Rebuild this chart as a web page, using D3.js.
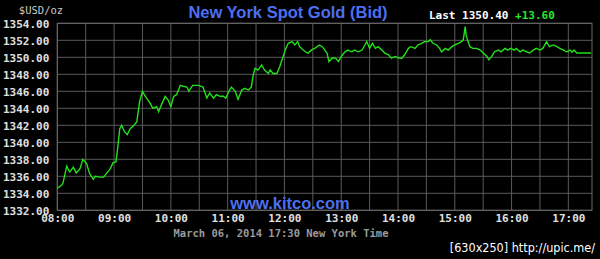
<!DOCTYPE html>
<html>
<head>
<meta charset="utf-8">
<script src="https://cdn.jsdelivr.net/npm/d3@7"></script>
<style>
  body { margin: 0; background: #000; }
  svg { display: block; }
</style>
</head>
<body>
<svg class="chart"></svg>
<script>
// data (minutes after 08:00, bid price)
const minutes = [0, 5, 6, 10, 13, 17, 20, 24, 27, 31, 34, 38, 40, 45, 49, 52, 56, 59, 62, 64,
  66, 68, 71, 74, 77, 80, 84, 87, 90, 93, 98, 101, 105, 107, 110, 114, 117, 120, 123, 126,
  130, 133, 137, 139, 143, 149, 154, 158, 161, 165, 168, 172, 175, 178, 182, 184, 188, 191, 195, 198,
  202, 205, 207, 209, 212, 216, 219, 223, 225, 228, 232, 235, 241, 244, 248, 251, 254, 256, 262, 265,
  269, 272, 277, 280, 285, 287, 291, 294, 297, 300, 304, 307, 311, 314, 318, 322, 325, 327, 330, 333,
  336, 339, 343, 346, 350, 353, 357, 360, 364, 367, 371, 374, 378, 381, 385, 388, 392, 394, 397, 401,
  404, 406, 410, 413, 417, 420, 424, 427, 429, 431, 432, 434, 436, 439, 443, 447, 450, 454, 456, 459,
  462, 466, 469, 473, 476, 479, 483, 485, 489, 492, 496, 499, 503, 506, 510, 513, 517, 519, 520, 524,
  528, 531, 535, 538, 542, 544, 546, 549, 552, 557, 564]

const prices = [1334.6, 1335.0, 1335.2, 1337.2, 1336.5, 1337.05, 1336.4, 1336.9, 1338.0, 1337.5,
  1336.35, 1335.65, 1336.0, 1335.9, 1335.9, 1336.35, 1336.9, 1337.6, 1337.7, 1339.5,
  1341.6, 1342.0, 1341.25, 1340.9, 1341.6, 1341.9, 1342.4, 1344.8, 1346.0, 1345.4,
  1344.6, 1344.0, 1344.2, 1343.6, 1344.4, 1345.4, 1345.0, 1344.2, 1345.4, 1345.6,
  1346.7, 1346.6, 1346.5, 1346.0, 1346.7, 1346.7, 1346.5, 1345.2, 1345.8, 1345.2,
  1345.6, 1345.4, 1345.45, 1345.2, 1346.15, 1346.5, 1346.0, 1345.05, 1346.15, 1346.35,
  1346.15, 1346.5, 1347.9, 1348.7, 1348.5, 1349.1, 1348.5, 1348.1, 1348.5, 1348.1,
  1348.1, 1348.9, 1350.9, 1351.65, 1351.85, 1351.45, 1351.85, 1351.25, 1350.65, 1350.5,
  1350.9, 1351.05, 1351.45, 1351.25, 1350.5, 1349.5, 1349.95, 1349.9, 1349.5, 1350.1,
  1350.65, 1350.85, 1350.65, 1350.85, 1350.65, 1350.85, 1351.45, 1351.85, 1351.05, 1351.65,
  1351.05, 1351.25, 1350.85, 1350.5, 1350.3, 1349.9, 1350.1, 1349.95, 1349.9, 1350.3,
  1351.05, 1351.25, 1351.05, 1351.45, 1351.65, 1351.85, 1351.85, 1352.05, 1351.65, 1351.45,
  1351.05, 1350.65, 1351.05, 1350.85, 1351.25, 1351.45, 1351.65, 1351.85, 1352.05, 1353.6,
  1352.6, 1351.85, 1351.25, 1351.05, 1351.05, 1350.85, 1350.5, 1350.1, 1349.7, 1350.1,
  1350.65, 1350.85, 1350.65, 1351.05, 1350.85, 1351.05, 1350.85, 1351.05, 1350.65, 1350.85,
  1350.65, 1350.5, 1350.85, 1351.05, 1350.85, 1351.05, 1351.85, 1351.45, 1351.25, 1351.45,
  1351.25, 1351.05, 1350.85, 1350.65, 1350.85, 1350.6, 1350.85, 1350.5, 1350.5, 1350.5, 1350.5]

const priceTicks = [1332, 1334, 1336, 1338, 1340, 1342, 1344, 1346, 1348, 1350, 1352, 1354]
const hourTicks = [0, 60, 120, 180, 240, 300, 360, 420, 480, 540]
const hourLabels = ["08:00", "09:00", "10:00", "11:00", "12:00", "13:00", "14:00", "15:00", "16:00", "17:00"]
const gridMinutes = d3.range(0, 565, 30)

function drawGoldChart() {
  const width = 600
  const height = 259
  const margin = { top: 23.3, right: 8, bottom: 48.7, left: 57.3 }
  const mono = "'DejaVu Sans Mono', 'Liberation Mono', monospace"

  const svg = d3.select(".chart")
    .attr("width", width)
    .attr("height", height)
    .style("background", "#000")

  const x = d3.scaleLinear()
    .domain([0, 565])
    .range([margin.left, width - margin.right])

  const y = d3.scaleLinear()
    .domain([1332, 1354])
    .range([height - margin.bottom, margin.top])

  // grid
  svg.append("g")
    .selectAll("line")
    .data(gridMinutes)
    .enter()
    .append("line")
    .attr("x1", d => x(d)).attr("x2", d => x(d))
    .attr("y1", y(1354)).attr("y2", y(1332))
    .attr("stroke", "#5a5a5a")
    .attr("stroke-width", 1)

  svg.append("g")
    .selectAll("line")
    .data(priceTicks)
    .enter()
    .append("line")
    .attr("x1", x(0)).attr("x2", x(565))
    .attr("y1", d => y(d)).attr("y2", d => y(d))
    .attr("stroke", "#5a5a5a")
    .attr("stroke-width", 1)

  svg.append("rect")
    .attr("x", x(0)).attr("y", y(1354))
    .attr("width", x(565) - x(0))
    .attr("height", y(1332) - y(1354))
    .attr("fill", "none")
    .attr("stroke", "#6a6a6a")

  // axes
  const yAxis = svg.append("g")
    .attr("transform", `translate(${x(0) - 5},0)`)
    .call(d3.axisLeft(y).tickValues(priceTicks).tickFormat(d3.format(".2f")).tickSize(0))
  yAxis.select(".domain").remove()
  yAxis.selectAll("text")
    .attr("fill", "#e0e0e0")
    .attr("font-family", mono)
    .attr("font-size", 11)
    .attr("font-weight", "bold")
    .attr("dy", "0.35em")

  const xAxis = svg.append("g")
    .attr("transform", `translate(0,${y(1332)})`)
    .call(d3.axisBottom(x).tickValues(hourTicks).tickFormat((d, i) => hourLabels[i]).tickSize(0).tickPadding(1))
  xAxis.select(".domain").remove()
  xAxis.selectAll("text")
    .attr("fill", "#e0e0e0")
    .attr("font-family", mono)
    .attr("font-size", 11)
    .attr("font-weight", "bold")
    .attr("dy", "1.0em")

  // price line
  const line = d3.line()
    .x((d, i) => x(minutes[i]))
    .y(d => y(d))

  svg.append("path")
    .datum(prices)
    .attr("fill", "none")
    .attr("stroke", "#22e01a")
    .attr("stroke-width", 1.4)
    .attr("d", line)

  // texts
  svg.append("text")
    .attr("x", 41).attr("y", 14)
    .attr("text-anchor", "middle")
    .attr("fill", "#c8c8c8")
    .attr("font-family", mono)
    .attr("font-size", 10.5)
    .text("$USD/oz")

  svg.append("text")
    .attr("x", 288).attr("y", 18)
    .attr("text-anchor", "middle")
    .attr("fill", "#4d6ff0")
    .attr("font-family", "'Liberation Sans', Arial, sans-serif")
    .attr("font-weight", "bold")
    .attr("font-size", 16.5)
    .text("New York Spot Gold (Bid)")

  const last = svg.append("text")
    .attr("x", 429).attr("y", 19)
    .attr("font-family", mono)
    .attr("font-size", 11)
    .attr("font-weight", "bold")
  last.append("tspan").attr("fill", "#ffffff").text("Last 1350.40 ")
  last.append("tspan").attr("fill", "#2be62b").text("+13.60")

  svg.append("text")
    .attr("x", 290).attr("y", 209)
    .attr("text-anchor", "middle")
    .attr("fill", "#4d6ff0")
    .attr("font-family", "'Liberation Sans', Arial, sans-serif")
    .attr("font-weight", "bold")
    .attr("font-size", 16.5)
    .text("www.kitco.com")

  svg.append("text")
    .attr("x", 281).attr("y", 237)
    .attr("text-anchor", "middle")
    .attr("fill", "#9a9a9a")
    .attr("font-family", mono)
    .attr("font-size", 10.5)
    .attr("font-weight", "bold")
    .text("March 06, 2014 17:30 New York Time")

  svg.append("text")
    .attr("x", 595).attr("y", 252)
    .attr("text-anchor", "end")
    .attr("fill", "#ffffff")
    .attr("font-family", "'DejaVu Sans Condensed', 'DejaVu Sans', sans-serif")
    .attr("font-size", 12.5)
    .text("[630x250] http://upic.me/")
}

drawGoldChart()
</script>
</body>
</html>
